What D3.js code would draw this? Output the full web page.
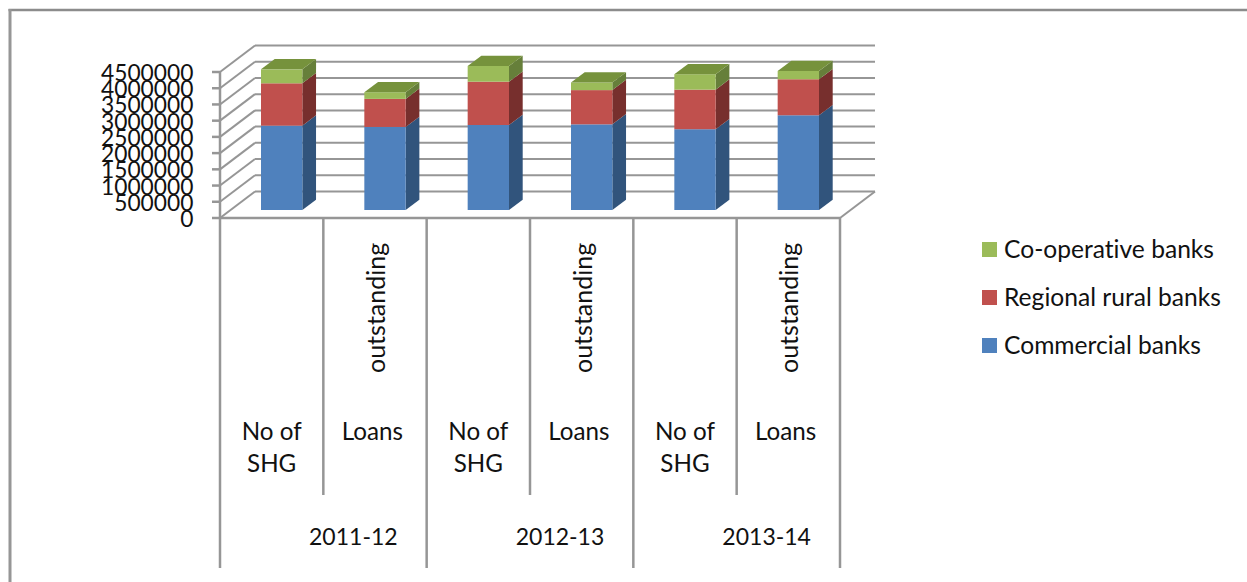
<!DOCTYPE html>
<html>
<head>
<meta charset="utf-8">
<script src="https://cdn.jsdelivr.net/npm/d3@7"></script>
<style>
html, body { margin: 0; padding: 0; background: #fff; }
svg { display: block; }
text { font-family: Lato, "Open Sans", sans-serif; fill: #111; font-variant-ligatures: none; }
</style>
</head>
<body>
<svg id="chart" width="1247" height="582"></svg>
<script>
// Self-help group lending by bank type, stacked 3-D columns
const periods = ["2011-12", "2012-13", "2013-14"];
const measures = ["No of SHG", "Loans outstanding"];
const seriesNames = ["Commercial banks", "Regional rural banks", "Co-operative banks"];
const commercial = [2600000, 2560000, 2620000, 2640000, 2490000, 2920000];
const regional = [1305000, 865000, 1335000, 1055000, 1220000, 1110000];
const cooperative = [430000, 205000, 485000, 235000, 475000, 255000];
const yTicks = [0, 500000, 1000000, 1500000, 2000000, 2500000, 3000000, 3500000, 4000000, 4500000];

const faceColors = ["#4F81BD", "#C0504D", "#9BBB59"];
const sideColors = ["#31547C", "#772F2D", "#667F3A"];
const topColor = "#76923C";
const gridColor = "#969696";

const svg = d3.select("#chart");

// Front plane of the plot box, and the slant of its depth
const plot = { left: 220, right: 840, bottom: 218, top: 72 };
const depth = { x: 35, y: -26.5 };
const barInset = { x: 10, y: -8 };
const barDepth = { x: 13.7, y: -10.3 };

const y = d3.scaleLinear().domain([0, 4500000]).range([plot.bottom, plot.top]);
const categories = d3.range(6);
const x = d3.scaleBand().domain(categories).range([plot.left, plot.right]).paddingInner(0).paddingOuter(0);
const barWidth = x.bandwidth() * 0.4;

const line = (g, x1, y1, x2, y2, w = 2) => g.append("line")
  .attr("x1", x1).attr("y1", y1).attr("x2", x2).attr("y2", y2)
  .attr("stroke", gridColor).attr("stroke-width", w);

// Chart frame: open on the right, running off the page edge
const frame = svg.append("g");
line(frame, 8.5, 10, 1247, 10, 2.5).attr("stroke", "#8c8c8c");
line(frame, 10, 9, 10, 582, 3);

// Walls: back gridlines, slanted side-wall lines, floor
const walls = svg.append("g");
yTicks.forEach(t => {
  const yy = y(t);
  line(walls, plot.left + depth.x, yy + depth.y, plot.right + depth.x, yy + depth.y);
  line(walls, plot.left, yy, plot.left + depth.x, yy + depth.y);
  line(walls, plot.left - 8, yy, plot.left, yy, 2.5);
});
line(walls, plot.left, plot.bottom, plot.right, plot.bottom, 2.5);
line(walls, plot.right, plot.bottom, plot.right + depth.x, plot.bottom + depth.y);
line(walls, plot.left, plot.top, plot.left, plot.bottom, 2.5);

// Value axis labels
svg.append("g").selectAll("text").data(yTicks).join("text")
  .attr("x", 193.5)
  .attr("y", d => y(d) + 9)
  .attr("text-anchor", "end")
  .attr("font-size", 22.8)
  .text(d => d);

// Stacked columns
const stack = categories.map(i => {
  const a = commercial[i], b = regional[i], c = cooperative[i];
  return [[0, a], [a, a + b], [a + b, a + b + c]];
});
const pts = arr => arr.map(p => p.join(",")).join(" ");
const barLayer = svg.append("g");
categories.forEach(i => {
  const x0 = x(i) + (x.bandwidth() - barWidth) / 2 + barInset.x;
  const x1 = x0 + barWidth;
  stack[i].forEach(([lo, hi], s) => {
    const yLo = y(lo) + barInset.y, yHi = y(hi) + barInset.y;
    barLayer.append("polygon")
      .attr("points", pts([[x1, yLo], [x1 + barDepth.x, yLo + barDepth.y], [x1 + barDepth.x, yHi + barDepth.y], [x1, yHi]]))
      .attr("fill", sideColors[s]);
    barLayer.append("rect")
      .attr("x", x0).attr("y", yHi).attr("width", barWidth).attr("height", yLo - yHi)
      .attr("fill", faceColors[s]);
    if (s === 2) {
      barLayer.append("polygon")
        .attr("points", pts([[x0, yHi], [x0 + barDepth.x, yHi + barDepth.y], [x1 + barDepth.x, yHi + barDepth.y], [x1, yHi]]))
        .attr("fill", topColor);
    }
  });
});

// Multi-level category axis
const axis = svg.append("g");
const labelSize = 24.2;
const addLabel = (cx, by, str, size = labelSize) => axis.append("text")
  .attr("x", cx).attr("y", by).attr("text-anchor", "middle").attr("font-size", size).text(str);
categories.forEach(i => {
  const cx = x(i) + x.bandwidth() / 2;
  if (i % 2 === 0) {
    const [a, b, c] = measures[0].split(" ");
    addLabel(cx, 439.5, `${a} ${b}`);
    addLabel(cx, 472, c);
  } else {
    const [first, second] = measures[1].split(" ");
    addLabel(cx - 2.7, 439.5, first);
    axis.append("text").attr("transform", `translate(${cx + 10},373) rotate(-90)`).attr("font-size", 25).text(second);
  }
});
d3.range(7).forEach(i => {
  const xx = i === 6 ? plot.right : x(i);
  line(axis, xx, plot.bottom, xx, i % 2 === 0 ? 568 : 495, 2.5);
});
periods.forEach((p, i) => {
  addLabel(x(i * 2) + x.bandwidth() + 30, 545, p, 23);
});

// Legend, listed top-down from the last series
const legend = svg.append("g");
[2, 1, 0].forEach((s, row) => {
  const ly = 249.5 + row * 48;
  legend.append("rect").attr("x", 982).attr("y", ly - 7.5).attr("width", 15).attr("height", 15).attr("fill", faceColors[s]);
  legend.append("text").attr("x", 1004).attr("y", ly + 8.5).attr("font-size", 24.6).text(seriesNames[s]);
});
</script>
</body>
</html>
